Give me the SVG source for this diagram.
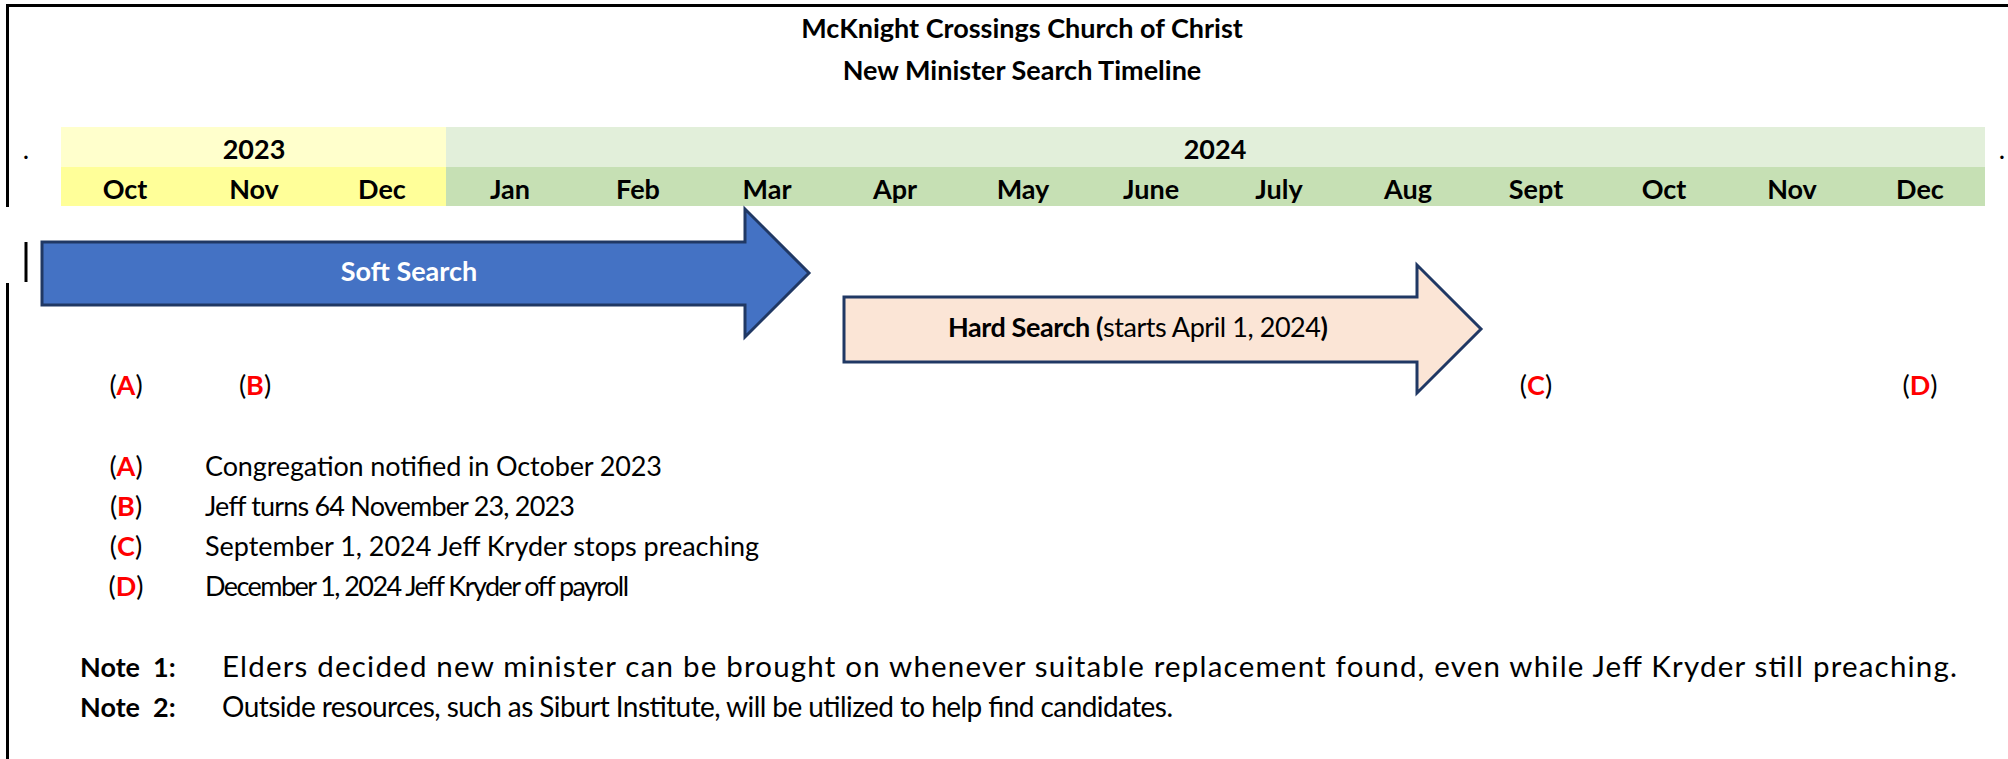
<svg xmlns="http://www.w3.org/2000/svg" width="2008" height="759" viewBox="0 0 2008 759">
<style>
text{font-family:Lato,"Open Sans","Liberation Sans",sans-serif;font-size:27px;fill:#000}
.b{font-weight:700}
.c{text-anchor:middle}
.r{fill:#FF0000;font-weight:700}
.w{fill:#FFFFFF}
.n{font-size:28px}
.n1{font-size:29.5px}
.frame{stroke:#000;stroke-width:3;fill:none}
.arrow{stroke:#203864;stroke-width:3;stroke-linejoin:miter}
</style>
<rect x="0" y="0" width="2008" height="759" fill="#FFFFFF"/>
<g id="frame">
<line class="frame" x1="6" y1="5.5" x2="2008" y2="5.5"/>
<line class="frame" x1="7.5" y1="4" x2="7.5" y2="207"/>
<line class="frame" x1="26" y1="242" x2="26" y2="282"/>
<line class="frame" x1="7.5" y1="283" x2="7.5" y2="759"/>
</g>
<g id="title">
<text class="b c" x="1022" y="38">McKnight Crossings Church of Christ</text>
<text class="b c" x="1022" y="80">New Minister Search Timeline</text>
</g>
<g id="timeline-header">
<rect x="61" y="127" width="385" height="40" fill="#FFFFCC"/>
<rect x="61" y="167" width="385" height="39" fill="#FFFF99"/>
<rect x="446" y="127" width="1539" height="40" fill="#E2EFDA"/>
<rect x="446" y="167" width="1539" height="39" fill="#C6E0B4"/>
<text x="26" y="159" class="c">.</text>
<text x="2002" y="159" class="c">.</text>
<text class="b c" x="254" y="159">2023</text>
<text class="b c" x="1215" y="159">2024</text>
<text class="b c" x="125" y="199">Oct</text>
<text class="b c" x="254" y="199">Nov</text>
<text class="b c" x="382" y="199">Dec</text>
<text class="b c" x="510" y="199">Jan</text>
<text class="b c" x="638" y="199">Feb</text>
<text class="b c" x="767" y="199">Mar</text>
<text class="b c" x="895" y="199">Apr</text>
<text class="b c" x="1023" y="199">May</text>
<text class="b c" x="1151" y="199">June</text>
<text class="b c" x="1279" y="199">July</text>
<text class="b c" x="1408" y="199">Aug</text>
<text class="b c" x="1536" y="199">Sept</text>
<text class="b c" x="1664" y="199">Oct</text>
<text class="b c" x="1792" y="199">Nov</text>
<text class="b c" x="1920" y="199">Dec</text>
</g>
<g id="soft-search">
<polygon class="arrow" fill="#4472C4" points="42,242 745,242 745,209 809,273 745,337 745,305 42,305"/>
<text class="b c w" x="409" y="281">Soft Search</text>
</g>
<g id="hard-search">
<polygon class="arrow" fill="#FBE5D6" points="844,297 1417,297 1417,265 1481,329 1417,393 1417,362 844,362"/>
<text x="948" y="337" textLength="380" lengthAdjust="spacing"><tspan class="b">Hard Search (</tspan>starts April 1, 2024<tspan class="b">)</tspan></text>
</g>
<g id="connectors"></g>
<g id="markers">
<text class="c" x="126" y="395">(<tspan class="r">A</tspan>)</text>
<text class="c" x="255" y="395">(<tspan class="r">B</tspan>)</text>
<text class="c" x="1536" y="395">(<tspan class="r">C</tspan>)</text>
<text class="c" x="1920" y="395">(<tspan class="r">D</tspan>)</text>
</g>
<g id="legend">
<text class="c" x="126" y="476">(<tspan class="r">A</tspan>)</text>
<text x="205" y="476" textLength="457" lengthAdjust="spacing">Congregation notified in October 2023</text>
<text class="c" x="126" y="516">(<tspan class="r">B</tspan>)</text>
<text x="205" y="516" textLength="370" lengthAdjust="spacing">Jeff turns 64 November 23, 2023</text>
<text class="c" x="126" y="556">(<tspan class="r">C</tspan>)</text>
<text x="205" y="556" textLength="554" lengthAdjust="spacing">September 1, 2024 Jeff Kryder stops preaching</text>
<text class="c" x="126" y="596">(<tspan class="r">D</tspan>)</text>
<text x="205" y="596" textLength="424" lengthAdjust="spacing">December 1, 2024 Jeff Kryder off payroll</text>
</g>
<g id="notes">
<text class="b" x="80" y="677" xml:space="preserve">Note  1:</text>
<text class="n1" x="222" y="677" textLength="1735" lengthAdjust="spacing">Elders decided new minister can be brought on whenever suitable replacement found, even while Jeff Kryder still preaching.</text>
<text class="b" x="80" y="717" xml:space="preserve">Note  2:</text>
<text class="n" x="222" y="717" textLength="951" lengthAdjust="spacing">Outside resources, such as Siburt Institute, will be utilized to help find candidates.</text>
</g>
</svg>
